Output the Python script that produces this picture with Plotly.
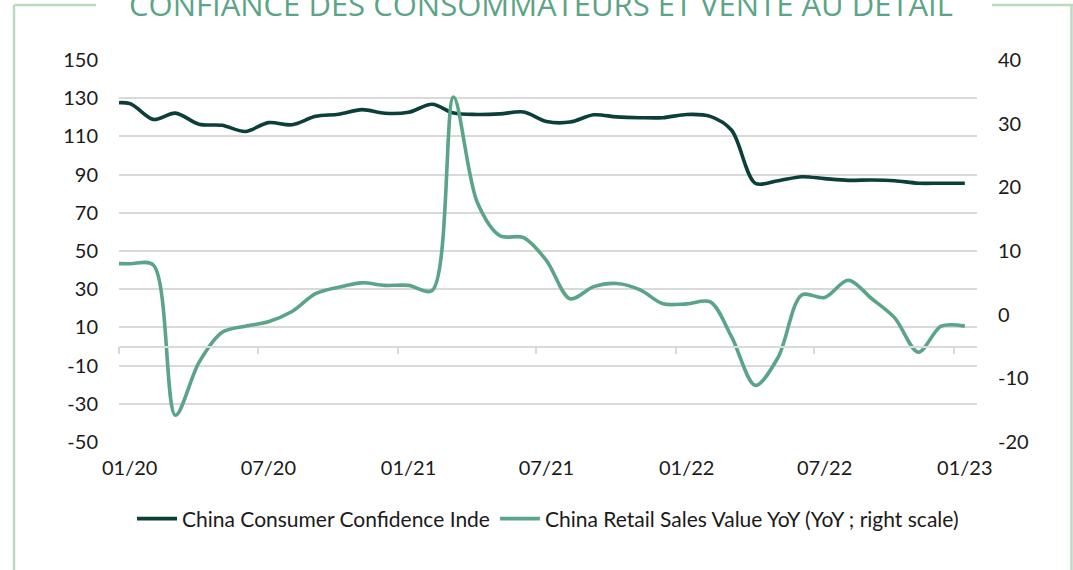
import pandas as pd
import plotly.graph_objects as go

# ---- data ----
months = pd.date_range("2019-12-01", periods=38, freq="MS") + pd.Timedelta(days=14)

consumer_confidence = [
    127.0, 127.2, 118.9, 122.2, 116.4, 115.8, 112.6, 117.2, 116.1, 120.5, 121.6, 124.0, 122.1,
    122.6, 126.8, 122.2, 121.5, 121.8, 122.8, 117.8, 117.5, 121.3, 120.2, 119.8, 119.8,
    121.5, 120.5, 113.2, 85.5, 86.8, 88.9, 87.9, 87.0, 87.2, 86.8, 85.5, 85.5, 85.5,
]
retail_sales_yoy = [
    8.0, 8.0, 7.8, -15.8, -7.5, -2.8, -1.8, -1.1, 0.5, 3.3, 4.3, 5.0, 4.6,
    4.6, 3.8, 34.2, 17.7, 12.4, 12.1, 8.5, 2.5, 4.4, 4.9, 3.9, 1.7,
    1.7, 2.0, -3.5, -11.1, -6.7, 3.1, 2.7, 5.4, 2.5, -0.5, -5.9, -1.8, -1.8,
]

label_dates = ["2020-01-15", "2020-07-15", "2021-01-15", "2021-07-15", "2022-01-15", "2022-07-15", "2023-01-15"]
label_text = ["01/20", "07/20", "01/21", "07/21", "01/22", "07/22", "01/23"]
tick_dates = ["2020-01-01", "2020-07-01", "2021-01-01", "2021-07-01", "2022-01-01", "2022-07-01", "2023-01-01"]
left_ticks = [-50, -30, -10, 10, 30, 50, 70, 90, 110, 130, 150]
right_ticks = [-20, -10, 0, 10, 20, 30, 40]

name_cc = "China Consumer Confidence Inde"
name_rs = "China Retail Sales Value YoY (YoY ; right scale)"
title_text = "CONFIANCE DES CONSOMMATEURS ET VENTE AU DETAIL"

# ---- style ----
W, H = 1073, 570
L, R, T, B = 119, 977, 60, 442
DARK = "#0b3f3a"
GREEN = "#5aa487"
GRID = "#d9d9d9"
FRAME = "#bcd9c0"
x_range = ["2020-01-01", "2023-01-31"]

def px_x(p):
    return (p - L) / (R - L)

def px_y(p):
    return (B - p) / (B - T)

fig = go.Figure()
fig.add_trace(go.Scatter(
    x=months, y=consumer_confidence, name=name_cc, mode="lines",
    line=dict(color=DARK, width=3.6, shape="spline", smoothing=0.9),
    xaxis="x", yaxis="y",
))
fig.add_trace(go.Scatter(
    x=months, y=retail_sales_yoy, name=name_rs, mode="lines",
    line=dict(color=GREEN, width=3.6, shape="spline", smoothing=0.9),
    xaxis="x2", yaxis="y2",
))

tickfont = dict(family="Lato", size=20, color="#1a1a1a")

fig.update_layout(
    template="none",
    width=W, height=H,
    margin=dict(l=L, r=W - R, t=T, b=H - B, pad=0, autoexpand=False),
    paper_bgcolor="white", plot_bgcolor="white",
    showlegend=True,
    xaxis=dict(
        type="date", range=x_range, domain=[0, 1], automargin=False,
        tickvals=label_dates, ticktext=label_text,
        showgrid=False, zeroline=False, showline=False, ticks="",
        tickfont=tickfont, ticklabelstandoff=12,
    ),
    xaxis2=dict(
        type="date", range=x_range, overlaying="x", anchor="free", position=0.25,
        automargin=False, tickvals=tick_dates, showticklabels=False,
        showgrid=False, zeroline=False, showline=True, linecolor=GRID, linewidth=1.5,
        ticks="outside", ticklen=7, tickcolor=GRID, tickwidth=1.5,
    ),
    yaxis=dict(
        range=[-50, 150], tickvals=left_ticks, ticktext=[str(v) for v in left_ticks],
        automargin=False,
        showgrid=True, gridcolor=GRID, gridwidth=1.5, zeroline=False, showline=False,
        ticks="", tickfont=tickfont, ticklabelstandoff=20,
    ),
    yaxis2=dict(
        range=[-20, 40], tickvals=right_ticks, ticktext=[str(v) for v in right_ticks],
        overlaying="y", side="right", anchor="x", automargin=False,
        showgrid=False, zeroline=False, showline=False,
        ticks="", tickfont=tickfont, ticklabelstandoff=20,
    ),
    legend=dict(
        orientation="h", x=0.5, xanchor="center", y=px_y(519), yanchor="middle",
        font=dict(family="Lato", size=21, color="#1a1a1a"),
        bgcolor="rgba(0,0,0,0)", itemwidth=40,
    ),
)

fig.add_annotation(
    text=title_text, xref="paper", yref="paper", x=px_x(541), y=px_y(4),
    xanchor="center", yanchor="middle", showarrow=False,
    font=dict(family="Open Sans", size=31, color=GREEN, weight=400),
)

frame = dict(type="line", xref="paper", yref="paper", line=dict(color=FRAME, width=2.5), layer="below")
fig.add_shape(x0=px_x(14), x1=px_x(14), y0=px_y(5), y1=px_y(575), **frame)
fig.add_shape(x0=px_x(14), x1=px_x(96), y0=px_y(5), y1=px_y(5), **frame)
fig.add_shape(x0=px_x(992), x1=px_x(1075), y0=px_y(5), y1=px_y(5), **frame)
fig.add_shape(x0=px_x(1071.5), x1=px_x(1071.5), y0=px_y(5), y1=px_y(575), **frame)

fig.write_html(
    "out.html",
    config={"displayModeBar": False},
    post_script="document.body.style.margin='0';document.body.style.padding='0';",
)
